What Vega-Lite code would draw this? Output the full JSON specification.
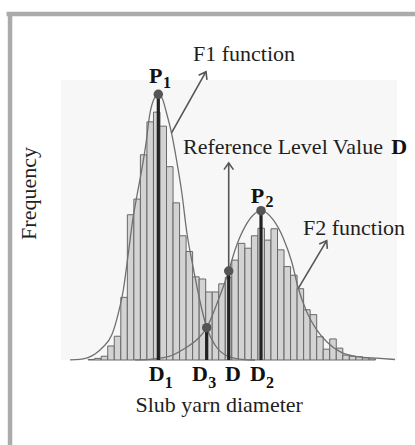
{
  "$schema": "https://vega.github.io/schema/vega-lite/v6.json",
  "width": 336,
  "height": 280,
  "autosize": {"type": "none"},
  "padding": {"left": 61, "top": 80, "right": 18, "bottom": 85},
  "background": "white",
  "config": {"view": {"fill": "#f7f7f7", "stroke": null}, "font": "Liberation Serif"},
  "datasets": {
    "bars": [
      {"x": -2, "x2": -1, "y": 0.01}, {"x": -1, "x2": 0, "y": 0.03}, {"x": 0, "x2": 1, "y": 0.07},
      {"x": 1, "x2": 2, "y": 0.26}, {"x": 2, "x2": 3, "y": 0.44}, {"x": 3, "x2": 4, "y": 1.16},
      {"x": 4, "x2": 5, "y": 2.69}, {"x": 5, "x2": 6, "y": 2.98}, {"x": 6, "x2": 7, "y": 3.8},
      {"x": 7, "x2": 8, "y": 4.41}, {"x": 8, "x2": 9, "y": 4.59}, {"x": 9, "x2": 10, "y": 4.33},
      {"x": 10, "x2": 11, "y": 3.58}, {"x": 11, "x2": 12, "y": 2.91}, {"x": 12, "x2": 13, "y": 2.3},
      {"x": 13, "x2": 14, "y": 2.01}, {"x": 14, "x2": 15, "y": 1.54}, {"x": 15, "x2": 16, "y": 1.5},
      {"x": 16, "x2": 17, "y": 1.26}, {"x": 17, "x2": 18, "y": 1.26}, {"x": 18, "x2": 19, "y": 1.41},
      {"x": 19, "x2": 20, "y": 1.53}, {"x": 20, "x2": 21, "y": 1.85}, {"x": 21, "x2": 22, "y": 2.16},
      {"x": 22, "x2": 23, "y": 2.07}, {"x": 23, "x2": 24, "y": 2.3}, {"x": 24, "x2": 25, "y": 2.44},
      {"x": 25, "x2": 26, "y": 2.22}, {"x": 26, "x2": 27, "y": 2.43}, {"x": 27, "x2": 28, "y": 2.04},
      {"x": 28, "x2": 29, "y": 1.73}, {"x": 29, "x2": 30, "y": 1.57}, {"x": 30, "x2": 31, "y": 1.32},
      {"x": 31, "x2": 32, "y": 0.93}, {"x": 32, "x2": 33, "y": 0.84}, {"x": 33, "x2": 34, "y": 0.43},
      {"x": 34, "x2": 35, "y": 0.2}, {"x": 35, "x2": 36, "y": 0.39}, {"x": 36, "x2": 37, "y": 0.22},
      {"x": 37, "x2": 38, "y": 0.09}, {"x": 38, "x2": 39, "y": 0.07}, {"x": 39, "x2": 40, "y": 0.06},
      {"x": 40, "x2": 41, "y": 0.04}, {"x": 41, "x2": 42, "y": 0.02}
    ],
    "curves": [
      {"fn": "F1", "x": -4.778, "y": 0.002}, {"fn": "F1", "x": -3.247, "y": 0.013}, {"fn": "F1", "x": -2.021, "y": 0.046},
      {"fn": "F1", "x": -0.949, "y": 0.111}, {"fn": "F1", "x": 0.276, "y": 0.241}, {"fn": "F1", "x": 1.608, "y": 0.463},
      {"fn": "F1", "x": 2.619, "y": 0.865}, {"fn": "F1", "x": 3.384, "y": 1.296}, {"fn": "F1", "x": 4.15, "y": 1.976},
      {"fn": "F1", "x": 4.824, "y": 2.593}, {"fn": "F1", "x": 5.436, "y": 3.019}, {"fn": "F1", "x": 6.202, "y": 3.519},
      {"fn": "F1", "x": 6.784, "y": 3.95}, {"fn": "F1", "x": 7.473, "y": 4.574}, {"fn": "F1", "x": 8.086, "y": 4.833},
      {"fn": "F1", "x": 8.744, "y": 4.92}, {"fn": "F1", "x": 9.387, "y": 4.833}, {"fn": "F1", "x": 10.0, "y": 4.574},
      {"fn": "F1", "x": 10.766, "y": 4.204}, {"fn": "F1", "x": 11.562, "y": 3.685}, {"fn": "F1", "x": 12.328, "y": 3.111},
      {"fn": "F1", "x": 13.124, "y": 2.352}, {"fn": "F1", "x": 14.058, "y": 1.728}, {"fn": "F1", "x": 15.084, "y": 1.111},
      {"fn": "F1", "x": 16.156, "y": 0.598}, {"fn": "F1", "x": 17.427, "y": 0.278}, {"fn": "F1", "x": 19.464, "y": 0.065},
      {"fn": "F1", "x": 21.516, "y": 0.013}, {"fn": "F1", "x": 23.553, "y": 0.0},
      {"fn": "F2", "x": 5.176, "y": 0.004}, {"fn": "F2", "x": 7.473, "y": 0.013}, {"fn": "F2", "x": 10.276, "y": 0.061},
      {"fn": "F2", "x": 12.833, "y": 0.217}, {"fn": "F2", "x": 14.87, "y": 0.402}, {"fn": "F2", "x": 16.156, "y": 0.598},
      {"fn": "F2", "x": 17.933, "y": 1.111}, {"fn": "F2", "x": 19.525, "y": 1.648}, {"fn": "F2", "x": 20.49, "y": 2.037},
      {"fn": "F2", "x": 22.021, "y": 2.469}, {"fn": "F2", "x": 23.292, "y": 2.685}, {"fn": "F2", "x": 24.472, "y": 2.765},
      {"fn": "F2", "x": 26.355, "y": 2.593}, {"fn": "F2", "x": 27.887, "y": 2.254}, {"fn": "F2", "x": 29.173, "y": 1.82},
      {"fn": "F2", "x": 30.184, "y": 1.328}, {"fn": "F2", "x": 31.47, "y": 0.894}, {"fn": "F2", "x": 33.002, "y": 0.556},
      {"fn": "F2", "x": 34.533, "y": 0.339}, {"fn": "F2", "x": 36.57, "y": 0.154}, {"fn": "F2", "x": 39.127, "y": 0.061},
      {"fn": "F2", "x": 42.695, "y": 0.031}, {"fn": "F2", "x": 44.99, "y": 0.009}
    ],
    "markers": [
      {"name": "P1", "x": 8.744, "y": 4.92},
      {"name": "D3", "x": 16.156, "y": 0.598},
      {"name": "D", "x": 19.525, "y": 1.648},
      {"name": "P2", "x": 24.472, "y": 2.765}
    ],
    "arrows": [
      {"name": "D", "x": 19.525, "y": 1.648, "x2": 19.525, "y2": 3.648},
      {"name": "F1", "x": 10.766, "y": 4.204, "x2": 16.049, "y2": 5.339},
      {"name": "F2", "x": 30.184, "y": 1.328, "x2": 34.533, "y2": 2.209}
    ],
    "notes": [
      {"kind": "plain", "text": "F1 function", "x": 14.058, "y": 5.528},
      {"kind": "plain", "text": "Reference Level Value", "x": 12.527, "y": 3.815},
      {"kind": "plain", "text": "F2 function", "x": 30.9, "y": 2.315},
      {"kind": "plain", "text": "Slub yarn diameter", "x": 5.253, "y": -0.972},
      {"kind": "bold", "text": "D", "x": 44.43, "y": 3.815},
      {"kind": "bold", "text": "P", "x": 7.32, "y": 5.13},
      {"kind": "bold", "text": "P", "x": 22.89, "y": 2.907},
      {"kind": "bold", "text": "D", "x": 7.27, "y": -0.398},
      {"kind": "bold", "text": "D", "x": 13.9, "y": -0.398},
      {"kind": "bold", "text": "D", "x": 18.96, "y": -0.398},
      {"kind": "bold", "text": "D", "x": 22.79, "y": -0.398},
      {"kind": "sub", "text": "1", "x": 9.45, "y": 5.037},
      {"kind": "sub", "text": "2", "x": 25.15, "y": 2.824},
      {"kind": "sub", "text": "1", "x": 9.72, "y": -0.519},
      {"kind": "sub", "text": "3", "x": 16.38, "y": -0.519},
      {"kind": "sub", "text": "2", "x": 25.24, "y": -0.519},
      {"kind": "vertical", "text": "Frequency", "x": -9.954, "y": 3.083}
    ],
    "frame": [
      {"side": "left", "x": -13.966, "y": 6.444, "x2": -13.966, "y2": -1.65},
      {"side": "top", "x": -14.5, "y": 6.407, "x2": 48.5, "y2": 6.407}
    ]
  },
  "layer": [
    {
      "data": {"name": "bars"},
      "mark": {"type": "rect", "fill": "#d3d3d3", "stroke": "#686868", "strokeWidth": 1},
      "encoding": {
        "x": {"field": "x", "type": "quantitative",
              "scale": {"domain": [-6.16, 45.3], "nice": false, "zero": false},
              "axis": {"title": null, "labels": false, "grid": false,
                       "values": [-6.16, -3.55, -0.94, 1.67, 4.28, 6.89, 9.5, 12.11, 14.72, 17.33, 19.94, 22.55, 25.16, 27.77, 30.38, 32.99, 35.6, 38.21, 40.82, 43.43],
                       "domainColor": "#8a8a8a", "domainWidth": 2, "tickColor": "#9a9a9a", "tickSize": 4, "tickWidth": 1}},
        "x2": {"field": "x2"},
        "y": {"field": "y", "type": "quantitative",
              "scale": {"domain": [0, 5.185], "nice": false, "zero": true},
              "axis": {"title": null, "labels": false, "grid": false, "values": [0, 1, 2, 3, 4, 5],
                       "domainColor": "#a8a8a8", "domainWidth": 1, "tickColor": "#a8a8a8", "tickSize": 3, "tickWidth": 1}},
        "y2": {"datum": 0}
      }
    },
    {
      "data": {"name": "curves"},
      "mark": {"type": "line", "color": "#707070", "strokeWidth": 1.3, "interpolate": "monotone"},
      "encoding": {
        "x": {"field": "x", "type": "quantitative", "axis": null},
        "y": {"field": "y", "type": "quantitative", "axis": null},
        "detail": {"field": "fn"}
      }
    },
    {
      "data": {"name": "markers"},
      "mark": {"type": "rule", "color": "#222222", "strokeWidth": 3.2},
      "encoding": {
        "x": {"field": "x", "type": "quantitative", "axis": null},
        "y": {"field": "y", "type": "quantitative", "axis": null},
        "y2": {"datum": 0}
      }
    },
    {
      "data": {"name": "arrows"},
      "mark": {"type": "rule", "color": "#555555", "strokeWidth": 1.6},
      "encoding": {
        "x": {"field": "x", "type": "quantitative", "axis": null},
        "y": {"field": "y", "type": "quantitative", "axis": null},
        "x2": {"field": "x2"},
        "y2": {"field": "y2"}
      }
    },
    {
      "data": {"name": "arrows"},
      "transform": [{"filter": "datum.name === 'D'"}],
      "mark": {"type": "point", "shape": "M-1,1.4L0,0L1,1.4", "filled": false, "color": "#555555", "strokeWidth": 1.6, "size": 90, "opacity": 1, "angle": 0},
      "encoding": {
        "x": {"field": "x2", "type": "quantitative", "axis": null},
        "y": {"field": "y2", "type": "quantitative", "axis": null}
      }
    },
    {
      "data": {"name": "arrows"},
      "transform": [{"filter": "datum.name === 'F1'"}],
      "mark": {"type": "point", "shape": "M-1,1.4L0,0L1,1.4", "filled": false, "color": "#555555", "strokeWidth": 1.6, "size": 90, "opacity": 1, "angle": 29},
      "encoding": {
        "x": {"field": "x2", "type": "quantitative", "axis": null},
        "y": {"field": "y2", "type": "quantitative", "axis": null}
      }
    },
    {
      "data": {"name": "arrows"},
      "transform": [{"filter": "datum.name === 'F2'"}],
      "mark": {"type": "point", "shape": "M-1,1.4L0,0L1,1.4", "filled": false, "color": "#555555", "strokeWidth": 1.6, "size": 90, "opacity": 1, "angle": 31},
      "encoding": {
        "x": {"field": "x2", "type": "quantitative", "axis": null},
        "y": {"field": "y2", "type": "quantitative", "axis": null}
      }
    },
    {
      "data": {"name": "markers"},
      "mark": {"type": "point", "shape": "circle", "filled": true, "color": "#555555", "size": 90, "opacity": 1},
      "encoding": {
        "x": {"field": "x", "type": "quantitative", "axis": null},
        "y": {"field": "y", "type": "quantitative", "axis": null}
      }
    },
    {
      "data": {"name": "notes"},
      "transform": [{"filter": "datum.kind === 'plain'"}],
      "mark": {"type": "text", "font": "Liberation Serif", "fontSize": 22, "align": "left", "baseline": "alphabetic", "color": "#1e1e1e"},
      "encoding": {
        "x": {"field": "x", "type": "quantitative", "axis": null},
        "y": {"field": "y", "type": "quantitative", "axis": null},
        "text": {"field": "text"}
      }
    },
    {
      "data": {"name": "notes"},
      "transform": [{"filter": "datum.kind === 'bold'"}],
      "mark": {"type": "text", "font": "Liberation Serif", "fontSize": 22, "fontWeight": "bold", "align": "left", "baseline": "alphabetic", "color": "#111111"},
      "encoding": {
        "x": {"field": "x", "type": "quantitative", "axis": null},
        "y": {"field": "y", "type": "quantitative", "axis": null},
        "text": {"field": "text"}
      }
    },
    {
      "data": {"name": "notes"},
      "transform": [{"filter": "datum.kind === 'sub'"}],
      "mark": {"type": "text", "font": "Liberation Serif", "fontSize": 16, "fontWeight": "bold", "align": "left", "baseline": "alphabetic", "color": "#111111"},
      "encoding": {
        "x": {"field": "x", "type": "quantitative", "axis": null},
        "y": {"field": "y", "type": "quantitative", "axis": null},
        "text": {"field": "text"}
      }
    },
    {
      "data": {"name": "notes"},
      "transform": [{"filter": "datum.kind === 'vertical'"}],
      "mark": {"type": "text", "font": "Liberation Serif", "fontSize": 22, "align": "center", "baseline": "alphabetic", "angle": 270, "color": "#1e1e1e"},
      "encoding": {
        "x": {"field": "x", "type": "quantitative", "axis": null},
        "y": {"field": "y", "type": "quantitative", "axis": null},
        "text": {"field": "text"}
      }
    },
    {
      "data": {"name": "frame"},
      "mark": {"type": "rule", "color": "#ababab", "strokeWidth": 4.5},
      "encoding": {
        "x": {"field": "x", "type": "quantitative", "axis": null},
        "y": {"field": "y", "type": "quantitative", "axis": null},
        "x2": {"field": "x2"},
        "y2": {"field": "y2"}
      }
    }
  ]
}
